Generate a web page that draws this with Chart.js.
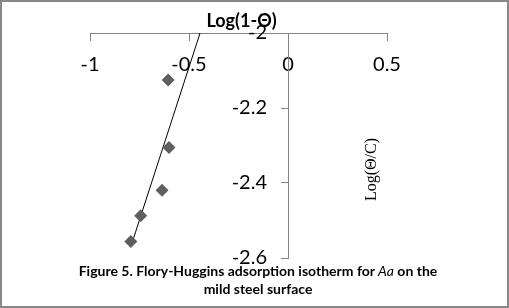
<!DOCTYPE html>
<html>
<head>
<meta charset="utf-8">
<script src="https://cdn.jsdelivr.net/npm/chart.js@4"></script>
<style>
  body { margin: 0; background: #fff; }
  #wrap { position: relative; width: 509px; height: 308px; }
  #frame { position: absolute; left: 0; top: 0; width: 509px; height: 308px; box-sizing: border-box; border: 2px solid #888; pointer-events: none; }
  #caption { position: absolute; left: 0; top: 262px; width: 516px; text-align: center; font-family: Lato, sans-serif; font-weight: bold; font-size: 14px; line-height: 18px; color: #000; }
  #caption i { font-weight: normal; }
</style>
</head>
<body>
<div id="wrap">
  <canvas id="chart" width="509" height="308"></canvas>
  <div id="caption">Figure 5. Flory-Huggins adsorption isotherm for <i>Aa</i> on the<br>mild steel surface</div>
  <div id="frame"></div>
</div>
<script>
"use strict";

// measured points, Log(1-Θ) vs Log(Θ/C)
const logOneMinusTheta = [-0.605, -0.601, -0.636, -0.744, -0.794];
const logThetaOverC = [-2.125, -2.305, -2.419, -2.487, -2.556];

// linear fit drawn in the figure (ends of the line)
const fitX = [-0.794, -0.444];
const fitY = [-2.570, -2.0];

const xTitle = "Log(1-Θ)";
const yTitle = "Log(Θ/C)";

const axisGray = "#868686";

// trims "-1.0" to "-1" like the original
const tickText = v => String(parseFloat(v.toFixed(2)));

// draws the two axis titles next to the axes
const axisTitles = {
  id: "axisTitles",
  afterDraw(chart) {
    const ctx = chart.ctx;
    const area = chart.chartArea;
    ctx.save();
    ctx.fillStyle = "#000";
    ctx.textAlign = "center";
    ctx.textBaseline = "middle";
    ctx.font = "bold 18px Lato";
    ctx.fillText(xTitle, (area.left + area.right) / 2 + 3, area.top - 12);

    ctx.translate(area.right - 15, (area.top + area.bottom) / 2 + 24);
    ctx.rotate(-Math.PI / 2);
    ctx.font = "16px 'Liberation Serif'";
    ctx.fillText(yTitle, 0, 0);
    ctx.restore();
  }
};

// the y axis sits at x = 0, chart.js puts its labels right on the line,
// so move them left past the tick marks
const shiftYLabels = {
  id: "shiftYLabels",
  beforeDraw(chart) {
    const items = chart.scales.y.getLabelItems();
    if (items.shifted) return;
    items.forEach(item => { item.options.translation[0] -= 21; });
    items.shifted = true;
  }
};

let ctx = document.getElementById("chart").getContext("2d");
let myChart = new Chart(ctx, {
  type: "scatter",
  data: {
    datasets: [{
      label: "data",
      data: logOneMinusTheta.map((x, i) => ({ x: x, y: logThetaOverC[i] })),
      pointStyle: "rectRot",
      pointRadius: 6.5,
      pointBackgroundColor: "#5f5f5f",
      pointBorderColor: "#5f5f5f",
      pointBorderWidth: 0,
      showLine: false
    }, {
      label: "fit",
      data: fitX.map((x, i) => ({ x: x, y: fitY[i] })),
      showLine: true,
      borderColor: "#000",
      borderWidth: 1,
      pointRadius: 0
    }]
  },
  options: {
    responsive: false,
    animation: false,
    layout: { padding: { left: 90, right: 122, top: 33, bottom: 50 } },
    plugins: {
      legend: { display: false },
      tooltip: { enabled: false }
    },
    scales: {
      x: {
        type: "linear",
        min: -1,
        max: 0.5,
        position: { y: -2 },
        ticks: { stepSize: 0.5, color: "#000", font: { family: "Lato", size: 20 }, padding: 13, callback: tickText },
        grid: { drawOnChartArea: false, tickLength: 7, color: axisGray },
        border: { color: axisGray }
      },
      y: {
        type: "linear",
        min: -2.6,
        max: -2,
        position: { x: 0 },
        ticks: { stepSize: 0.2, color: "#000", font: { family: "Lato", size: 20 }, callback: tickText },
        grid: { drawOnChartArea: false, tickLength: 7, color: axisGray },
        border: { color: axisGray }
      }
    }
  },
  plugins: [axisTitles, shiftYLabels]
});
</script>
</body>
</html>
